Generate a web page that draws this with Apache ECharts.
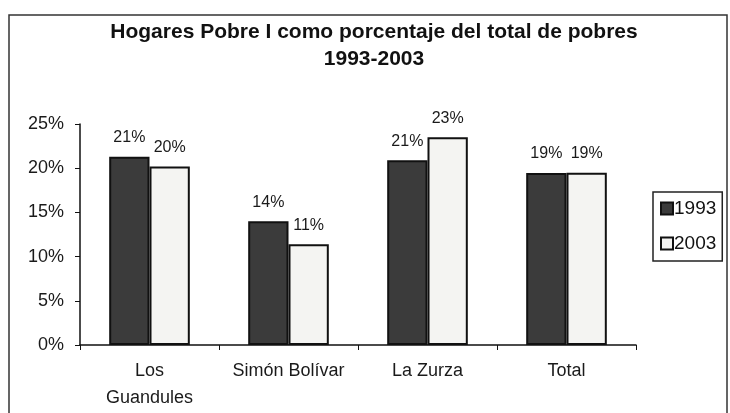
<!DOCTYPE html>
<html>
<head>
<meta charset="utf-8">
<script src="https://cdn.jsdelivr.net/npm/echarts@6/dist/echarts.min.js"></script>
<style>
  html, body { margin: 0; padding: 0; background: #fff; }
  #chart { width: 730px; height: 413px; }
</style>
</head>
<body>
<div id="chart"></div>
<script>
const categories = ["Los\nGuandules", "Simón Bolívar", "La Zurza", "Total"];
const seriesNames = ["1993", "2003"];
const values1993 = [21.3, 14.0, 20.9, 19.45];
const values2003 = [20.2, 11.4, 23.49, 19.49];
const yTicks = [0, 5, 10, 15, 20, 25];

const FONT = "Liberation Sans, Arial, sans-serif";
const chart = echarts.init(document.getElementById("chart"));

function barSeries(name, data, fill) {
  return {
    name,
    type: "bar",
    data,
    barGap: "0%",
    barCategoryGap: "42%",
    itemStyle: { color: fill, borderColor: "#111", borderWidth: 2 },
    label: {
      show: true,
      position: "top",
      distance: 11,
      fontFamily: FONT,
      fontSize: 16,
      color: "#1a1a1a",
      formatter: (p) => Math.round(p.value) + "%",
    },
  };
}

chart.setOption({
  backgroundColor: "#fff",
  animation: false,
  title: {
    text: "Hogares Pobre I como porcentaje del total de pobres\n1993-2003",
    left: 369,
    top: 14,
    textAlign: "center",
    textStyle: {
      fontFamily: FONT,
      fontWeight: "bold",
      fontSize: 21,
      lineHeight: 27,
      color: "#111",
    },
  },
  legend: {
    data: seriesNames,
    orient: "vertical",
    left: 653,
    top: 192,
    icon: "rect",
    itemWidth: 12,
    itemHeight: 12,
    itemGap: 16,
    padding: [7, 6, 8, 7],
    borderColor: "#222",
    borderWidth: 1.5,
    textStyle: { fontFamily: FONT, fontSize: 19, color: "#111", padding: [0, 0, 0, -4] },
  },
  graphic: [
    {
      type: "rect",
      shape: { x: 9, y: 15, width: 718, height: 410 },
      style: { fill: null, stroke: "#333", lineWidth: 1.5 },
      silent: true,
    },
  ],
  grid: { left: 80, right: 94, top: 124, bottom: 68 },
  xAxis: {
    type: "category",
    data: categories,
    axisLine: { lineStyle: { color: "#111", width: 1.5 } },
    axisTick: { show: true, length: 5, lineStyle: { color: "#111" } },
    axisLabel: {
      interval: 0,
      fontFamily: FONT,
      fontSize: 18,
      color: "#1a1a1a",
      margin: 13,
      lineHeight: 27,
    },
  },
  yAxis: {
    type: "value",
    min: yTicks[0],
    max: yTicks[yTicks.length - 1],
    interval: 5,
    splitLine: { show: false },
    axisLine: { show: true, lineStyle: { color: "#111", width: 1.5 } },
    axisTick: { show: true, length: 5, lineStyle: { color: "#111" } },
    axisLabel: {
      fontFamily: FONT,
      fontSize: 18,
      color: "#1a1a1a",
      margin: 16,
      formatter: "{value}%",
    },
  },
  series: [
    barSeries(seriesNames[0], values1993, "#3b3b3b"),
    barSeries(seriesNames[1], values2003, "#f4f4f2"),
  ],
});
</script>
</body>
</html>
